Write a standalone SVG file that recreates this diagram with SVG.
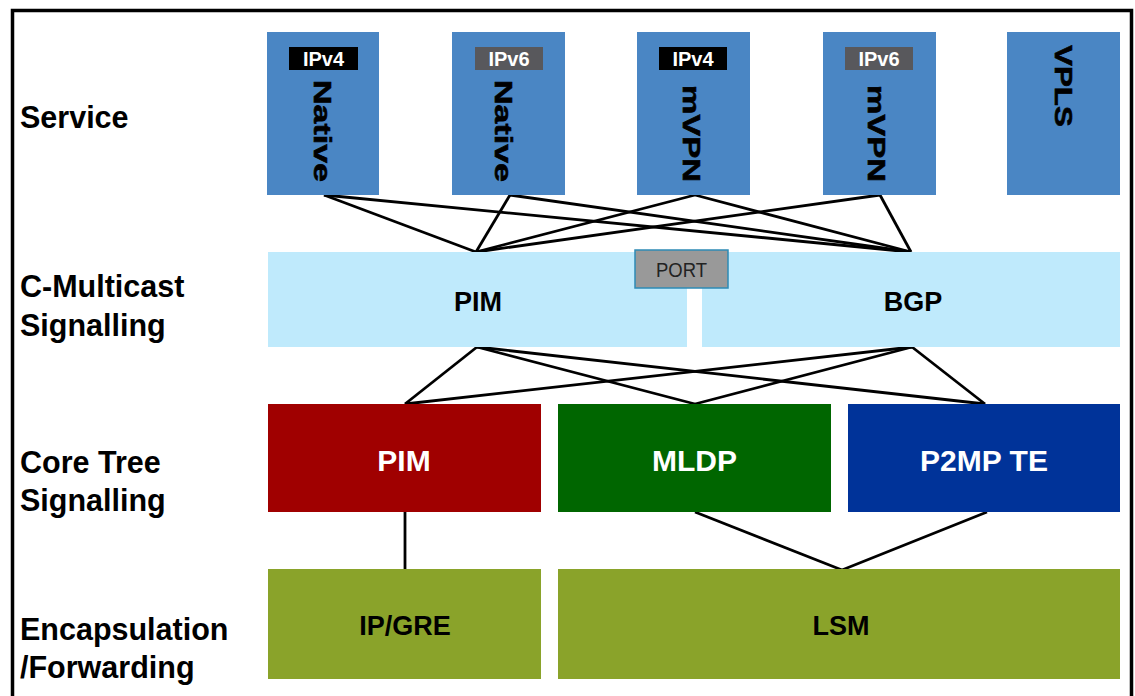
<svg xmlns="http://www.w3.org/2000/svg" width="1135" height="696" viewBox="0 0 1135 696">
<style>
.lbl{font-family:"Liberation Sans",Arial,sans-serif;font-weight:bold;font-size:30.5px;fill:#000}
.svc{fill:#4a86c4}
.vt{font-family:"Liberation Sans",Arial,sans-serif;font-weight:bold;font-size:24.5px;fill:#000;text-anchor:middle;stroke:#000;stroke-width:0.6}
.tag{font-family:"Liberation Sans",Arial,sans-serif;font-weight:bold;font-size:20px;fill:#fff;text-anchor:middle}
.cm{fill:#bfeafc}
.bt{font-family:"Liberation Sans",Arial,sans-serif;font-weight:bold;font-size:27px;fill:#000;text-anchor:middle}
.wt{font-family:"Liberation Sans",Arial,sans-serif;font-weight:bold;font-size:30px;fill:#fff;text-anchor:middle}
.conn line{stroke:#000;stroke-width:2.8}
</style>
<rect x="0" y="0" width="1135" height="696" fill="#fff"/>
<rect x="12.5" y="10.5" width="1119" height="700" fill="none" stroke="#000" stroke-width="3.5"/>

<g id="labels">
<text class="lbl" x="20" y="128">Service</text>
<text class="lbl" x="20" y="297">C-Multicast</text>
<text class="lbl" x="20" y="336">Signalling</text>
<text class="lbl" x="20" y="473">Core Tree</text>
<text class="lbl" x="20" y="511">Signalling</text>
<text class="lbl" x="20" y="640">Encapsulation</text>
<text class="lbl" x="20" y="678">/Forwarding</text>
</g>

<g id="connectors" class="conn">
<line x1="324" y1="195" x2="476" y2="252"/>
<line x1="324" y1="195" x2="911" y2="252"/>
<line x1="510" y1="195" x2="476" y2="252"/>
<line x1="510" y1="195" x2="911" y2="252"/>
<line x1="695" y1="195" x2="476" y2="252"/>
<line x1="695" y1="195" x2="911" y2="252"/>
<line x1="880" y1="195" x2="476" y2="252"/>
<line x1="880" y1="195" x2="911" y2="252"/>
<line x1="477" y1="347" x2="405" y2="404"/>
<line x1="477" y1="347" x2="695" y2="404"/>
<line x1="477" y1="347" x2="985" y2="404"/>
<line x1="912" y1="347" x2="405" y2="404"/>
<line x1="912" y1="347" x2="695" y2="404"/>
<line x1="912" y1="347" x2="985" y2="404"/>
<line x1="405" y1="512" x2="405" y2="569"/>
<line x1="695" y1="512" x2="842" y2="570"/>
<line x1="987" y1="512" x2="842" y2="570"/>
</g>

<g id="svc-native-v4">
<rect class="svc" x="267" y="32" width="112" height="163"/>
<rect x="289" y="47" width="69" height="23" fill="#000"/>
<text class="tag" x="323.5" y="66">IPv4</text>
<text class="vt" transform="translate(313.5,131) rotate(90)" textLength="102" lengthAdjust="spacingAndGlyphs">Native</text>
</g>
<g id="svc-native-v6">
<rect class="svc" x="452" y="32" width="113" height="163"/>
<rect x="475" y="47" width="68" height="23" fill="#58585c"/>
<text class="tag" x="509" y="66">IPv6</text>
<text class="vt" transform="translate(494.5,131) rotate(90)" textLength="102" lengthAdjust="spacingAndGlyphs">Native</text>
</g>
<g id="svc-mvpn-v4">
<rect class="svc" x="637" y="32" width="113" height="163"/>
<rect x="659" y="47" width="68" height="23" fill="#000"/>
<text class="tag" x="693" y="66">IPv4</text>
<text class="vt" transform="translate(683,133.5) rotate(90)" textLength="97" lengthAdjust="spacingAndGlyphs">mVPN</text>
</g>
<g id="svc-mvpn-v6">
<rect class="svc" x="823" y="32" width="113" height="163"/>
<rect x="845" y="47" width="68" height="23" fill="#58585c"/>
<text class="tag" x="879" y="66">IPv6</text>
<text class="vt" transform="translate(868,133.5) rotate(90)" textLength="97" lengthAdjust="spacingAndGlyphs">mVPN</text>
</g>
<g id="svc-vpls">
<rect class="svc" x="1007" y="32" width="113" height="163"/>
<text class="vt" transform="translate(1054.5,86) rotate(90)" textLength="82" lengthAdjust="spacingAndGlyphs">VPLS</text>
</g>

<g id="cm-pim">
<rect class="cm" x="268" y="252" width="419" height="95"/>
<text class="bt" x="478" y="311">PIM</text>
</g>
<g id="cm-bgp">
<rect class="cm" x="702" y="252" width="418" height="95"/>
<text class="bt" x="913" y="311">BGP</text>
</g>
<g id="port">
<rect x="635" y="250" width="93" height="38" fill="#999999" stroke="#2e8bb5" stroke-width="1.5"/>
<text x="681.5" y="277" font-family="'Liberation Sans',Arial,sans-serif" font-size="20" fill="#222" text-anchor="middle" textLength="51" lengthAdjust="spacingAndGlyphs">PORT</text>
</g>

<g id="core-pim">
<rect x="268" y="404" width="273" height="108" fill="#a00000"/>
<text class="wt" x="404" y="471">PIM</text>
</g>
<g id="core-mldp">
<rect x="558" y="404" width="273" height="108" fill="#006600"/>
<text class="wt" x="694.5" y="471">MLDP</text>
</g>
<g id="core-p2mp">
<rect x="848" y="404" width="272" height="108" fill="#003399"/>
<text class="wt" x="984" y="471">P2MP TE</text>
</g>

<g id="enc-ipgre">
<rect x="268" y="569" width="273" height="110" fill="#8aa32a"/>
<text class="bt" x="405" y="635">IP/GRE</text>
</g>
<g id="enc-lsm">
<rect x="558" y="569" width="562" height="110" fill="#8aa32a"/>
<text class="bt" x="841" y="635">LSM</text>
</g>
</svg>
